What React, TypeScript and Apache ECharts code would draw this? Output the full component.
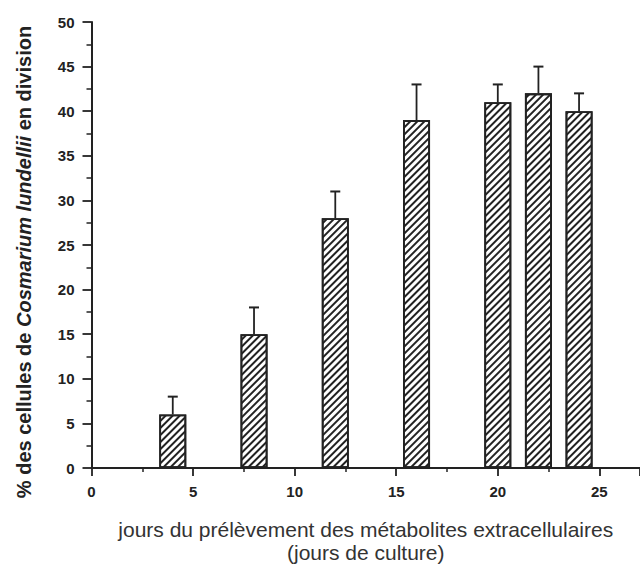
import React, { useEffect, useRef } from "react";
import * as echarts from "echarts";

const days = [4, 8, 12, 16, 20, 22, 24];
const means = [6, 15, 28, 39, 41, 42, 40];
const errors = [2, 3, 3, 4, 2, 3, 2];

const yAxisName = "{n|% des cellules de }{i|Cosmarium lundellii}{n| en division}";
const xAxisName = "jours du prélèvement des métabolites extracellulaires\n(jours de culture)";

export default function App() {
  const ref = useRef<HTMLDivElement>(null);
  useEffect(() => {
    document.body.style.margin = "0";
    const chart = echarts.init(ref.current!, undefined, { renderer: "svg" });
    const ink = "#222";
    const barData = days.map((d, i) => [d, means[i]]);
    const errData = days.map((d, i) => [d, means[i], errors[i]]);
    chart.setOption({
      animation: false,
      backgroundColor: "#fff",
      grid: { left: 91.5, right: 0, top: 22, bottom: 92, containLabel: false },
      graphic: [
        {
          type: "text",
          x: 24,
          y: 262,
          rotation: Math.PI / 2,
          style: {
            text: yAxisName,
            align: "center",
            verticalAlign: "middle",
            rich: {
              n: { fontFamily: "Liberation Sans", fontWeight: "bold", fontSize: 20, fill: "#222" },
              i: { fontFamily: "Liberation Sans", fontWeight: "bold", fontStyle: "italic", fontSize: 20, fill: "#222" },
            },
          },
        },
      ],
      xAxis: {
        type: "value",
        min: 0,
        max: 27,
        interval: 5,
        name: xAxisName,
        nameLocation: "middle",
        nameGap: 50,
        nameTextStyle: { fontFamily: "Liberation Sans", fontSize: 21, color: "#333", lineHeight: 23 },
        axisLine: { show: true, lineStyle: { color: ink, width: 2 } },
        axisTick: { show: true, length: 8, lineStyle: { color: ink, width: 1.8 } },
        minorTick: { show: true, splitNumber: 2, length: 4, lineStyle: { color: ink, width: 1.5 } },
        splitLine: { show: false },
        axisLabel: {
          margin: 16,
          showMaxLabel: false,
          fontFamily: "Liberation Sans",
          fontWeight: "bold",
          fontSize: 15,
          color: "#222",
        },
      },
      yAxis: {
        type: "value",
        min: 0,
        max: 50,
        interval: 5,
        axisLine: { show: true, lineStyle: { color: ink, width: 2 } },
        axisTick: { show: true, length: 9, lineStyle: { color: ink, width: 1.8 } },
        minorTick: { show: true, splitNumber: 2, length: 5, lineStyle: { color: ink, width: 1.5 } },
        splitLine: { show: false },
        axisLabel: {
          margin: 17,
          fontFamily: "Liberation Sans",
          fontWeight: "bold",
          fontSize: 15,
          color: "#222",
        },
      },
      series: [
        {
          type: "bar",
          data: barData,
          barWidth: 27,
          itemStyle: {
            color: "#fff",
            borderColor: ink,
            borderWidth: 1.8,
            decal: {
              symbol: "rect",
              symbolSize: 1,
              dashArrayX: [1, 0],
              dashArrayY: [1.3, 2.8],
              rotation: -Math.PI / 4,
              color: ink,
              backgroundColor: "#fff",
            },
          },
        },
        {
          type: "custom",
          data: errData,
          encode: { x: 0, y: 1 },
          z: 5,
          renderItem: (params: any, api: any) => {
            const x = api.value(0);
            const y = api.value(1);
            const e = api.value(2);
            const base = api.coord([x, y]);
            const top = api.coord([x, y + e]);
            const cap = 5;
            return {
              type: "group",
              children: [
                { type: "line", shape: { x1: base[0], y1: base[1], x2: top[0], y2: top[1] }, style: { stroke: ink, lineWidth: 1.8 } },
                { type: "line", shape: { x1: top[0] - cap, y1: top[1], x2: top[0] + cap, y2: top[1] }, style: { stroke: ink, lineWidth: 2 } },
              ],
            };
          },
        },
      ],
    });
    return () => chart.dispose();
  }, []);
  return <div ref={ref} style={{ position: "absolute", left: 0, top: 0, width: 640, height: 569 }} />;
}
